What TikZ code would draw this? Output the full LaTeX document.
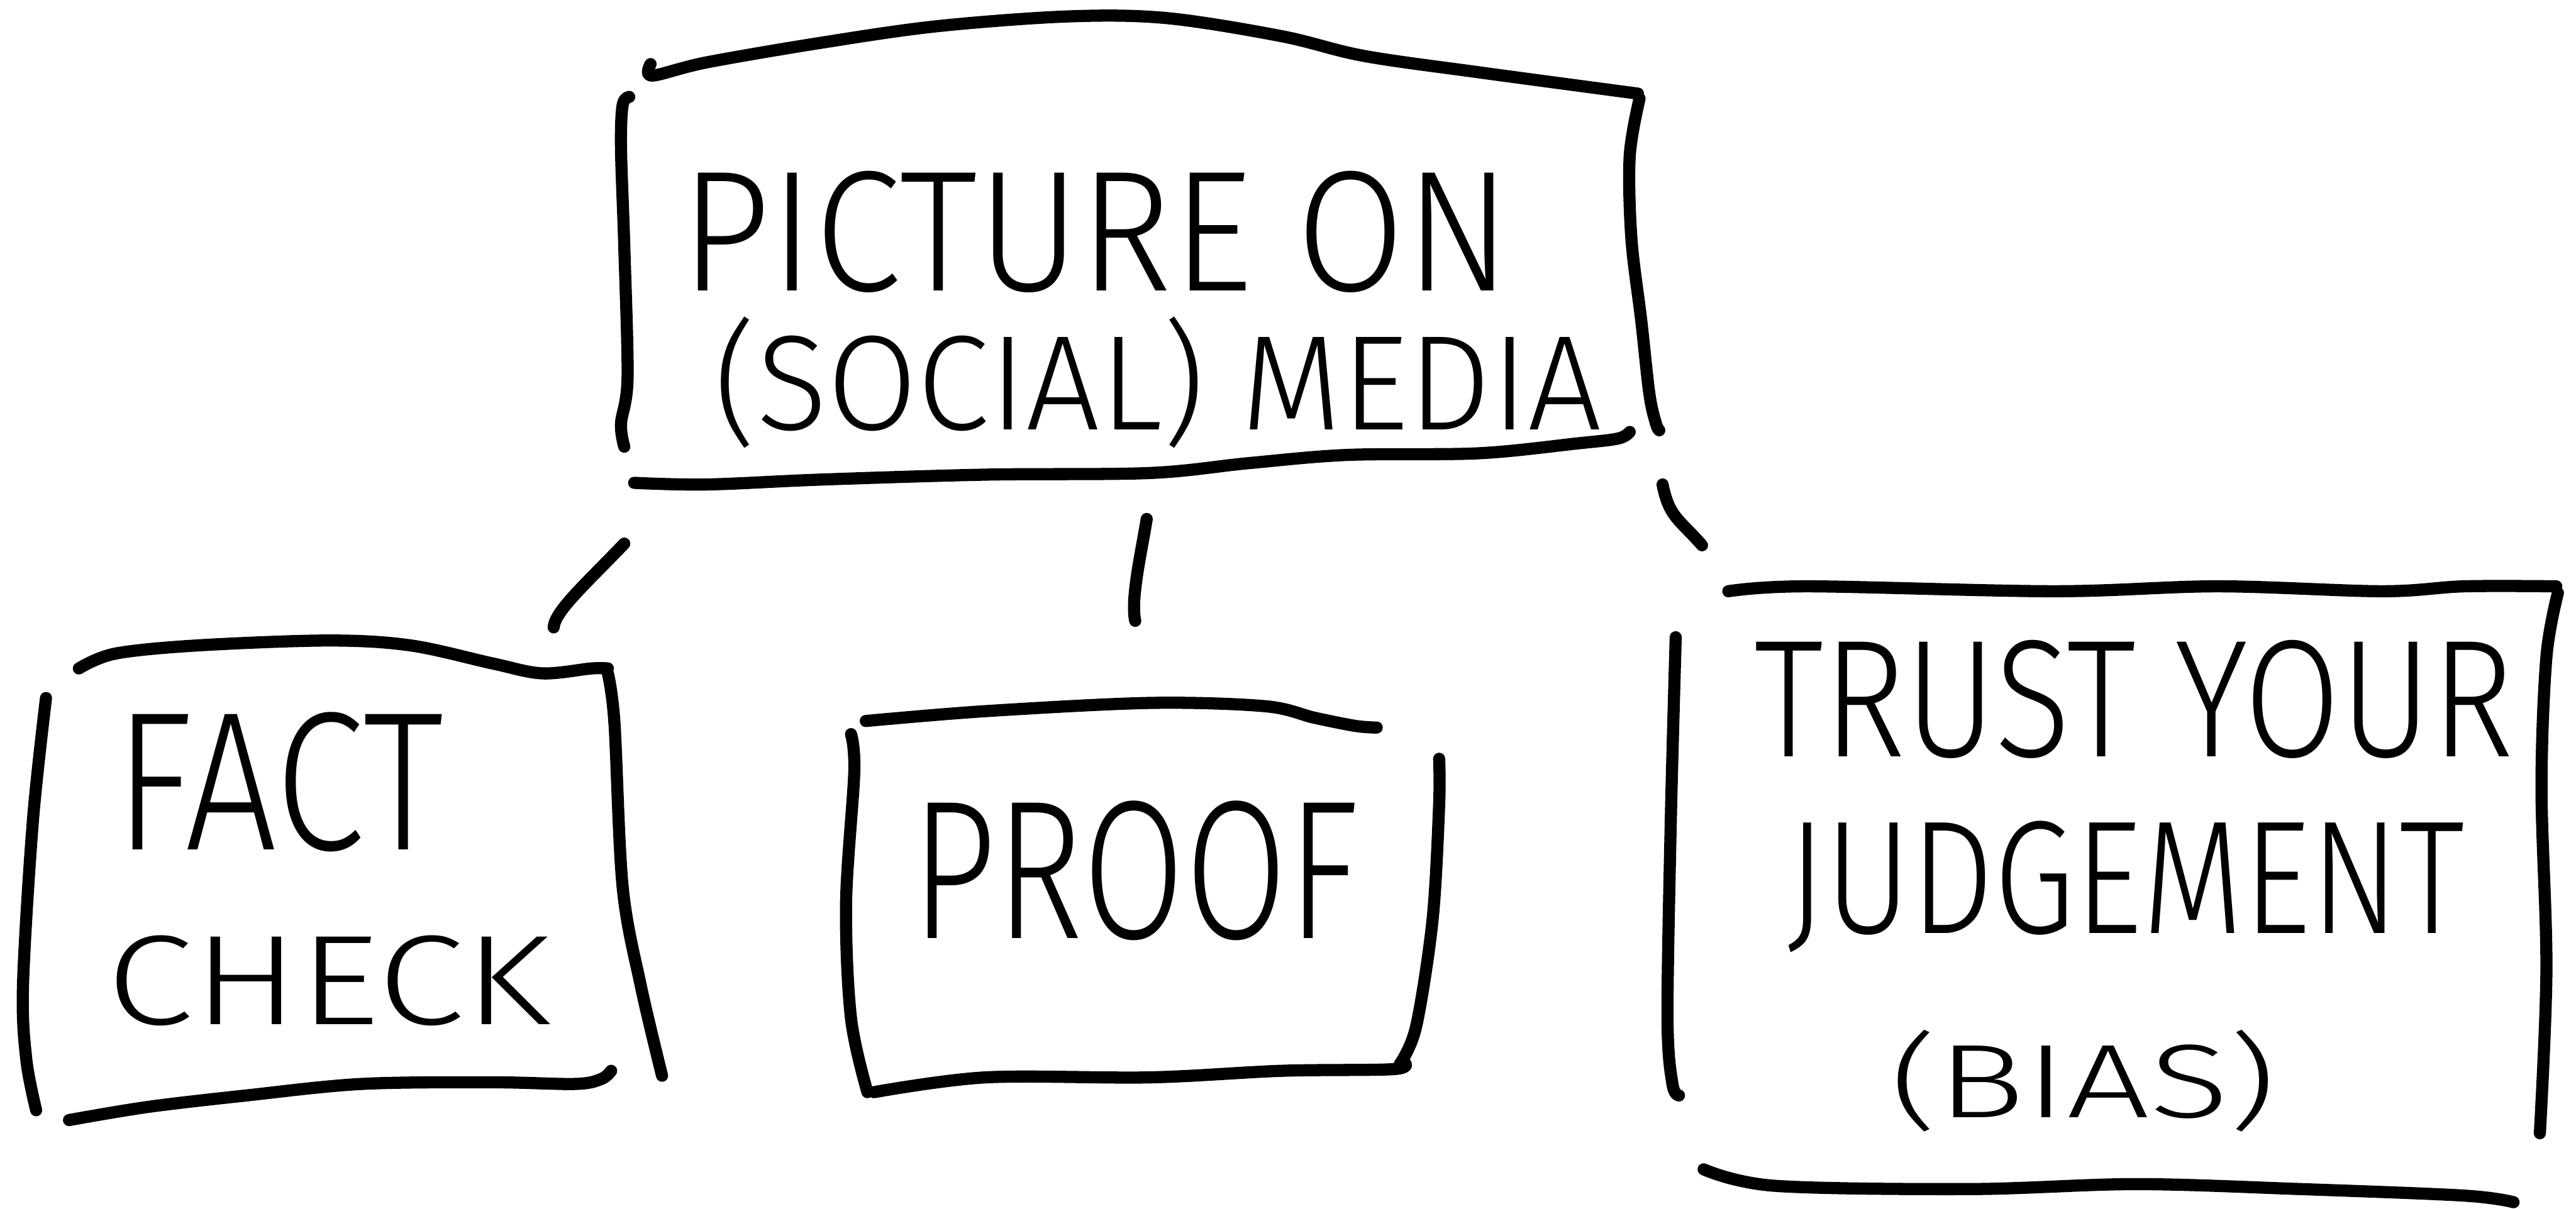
\documentclass[tikz,border=0pt]{standalone}
\usepackage{fontspec}
\IfFontExistsTF{Fira Sans Light}
  {\setmainfont{Fira Sans Light}}
  {\IfFontExistsTF{Lato Light}{\setmainfont{Lato Light}}{\setmainfont{Fira Sans}}}
\tikzset{
  pen/.style={line width=2.1pt, line cap=round, line join=round},
  edge/.style={pen, smooth, tension=0.55},
  label/.style={inner sep=0pt, font=\fontsize{30}{30}\selectfont}
}
\newcommand{\lettering}[3]{\resizebox*{#1}{#2}{#3}}
\begin{document}
\begin{tikzpicture}[x=0.01cm, y=-0.01cm]
\useasboundingbox (0,0) rectangle (1568,736);

% ---- top box: PICTURE ON (SOCIAL) MEDIA
\draw[edge] plot coordinates {(396,39) (397,46) (430,38) (500,26) (570,16) (650,10) (710,11) (780,22) (830,34) (900,44) (997,57)};
\draw[edge] plot coordinates {(383,59) (379,64) (378,90) (380,150) (382,230) (378,258) (380,272)};
\draw[edge] plot coordinates {(998,60) (992,95) (993,145) (999,195) (1004,240) (1008,258) (1010,262)};
\draw[edge] plot coordinates {(386,294) (430,295) (500,292) (600,289) (700,288) (760,282) (820,277) (900,276) (960,270) (985,267) (992,263)};
\node[label] (top1) at (667,141) {\lettering{5.05cm}{0.74cm}{PICTURE ON}};
\node[label] (top2) at (705,233) {\lettering{5.4cm}{0.8cm}{(SOCIAL) MEDIA}};

% ---- connectors below the top box
\coordinate (l1) at (380,331); \coordinate (l2) at (337,382);
\coordinate (m1) at (698,316); \coordinate (m2) at (691,378);
\coordinate (r1) at (1012,295); \coordinate (r2) at (1036,332);
\draw[pen] (l1) .. controls (355,357) and (338,372) .. (l2);
\draw[pen] (m1) .. controls (695,335) and (688,365) .. (m2);
\draw[pen] (r1) .. controls (1016,315) and (1022,316) .. (r2);

% ---- left box: FACT CHECK
\draw[edge] plot coordinates {(48,407) (70,398) (120,393) (200,390) (250,393) (300,404) (330,410) (360,407) (370,407)};
\draw[edge] plot coordinates {(28,425) (20,500) (14,600) (16,645) (22,676)};
\draw[edge] plot coordinates {(370,410) (374,440) (379,540) (390,600) (403,655)};
\draw[edge] plot coordinates {(42,682) (90,674) (150,667) (220,660) (300,659) (350,660) (366,657) (372,652)};
\node[label] (fact) at (170,476) {\lettering{2.0cm}{0.85cm}{FACT}};
\node[label] (check) at (200,597) {\lettering{2.7cm}{0.55cm}{CHECK}};

% ---- middle box: PROOF
\draw[edge] plot coordinates {(527,439) (600,433) (700,428) (770,430) (800,437) (825,442) (838,443)};
\draw[edge] plot coordinates {(518,447) (520,470) (515,550) (518,620) (528,665)};
\draw[edge] plot coordinates {(532,665) (600,656) (700,656) (780,652) (848,651) (855,647)};
\draw[edge] plot coordinates {(876,462) (876,490) (872,560) (862,625) (852,648)};
\node[label] (proof) at (691,530) {\lettering{2.72cm}{0.85cm}{PROOF}};

% ---- right box: TRUST YOUR JUDGEMENT (BIAS)
\draw[edge] plot coordinates {(1052,360) (1100,357) (1250,360) (1350,357) (1450,360) (1500,357) (1556,357)};
\draw[edge] plot coordinates {(1557,361) (1550,400) (1547,480) (1550,590) (1546,690)};
\draw[edge] plot coordinates {(1020,388) (1017,500) (1015,620) (1018,660) (1022,667)};
\draw[edge] plot coordinates {(1037,712) (1080,722) (1200,724) (1300,721) (1400,724) (1500,728) (1530,732)};
\node[label] (trust) at (1299,426) {\lettering{4.62cm}{0.72cm}{TRUST YOUR}};
\node[label] (judge) at (1294,540) {\lettering{4.12cm}{0.8cm}{JUDGEMENT}};
\node[label] (bias) at (1268,658) {\lettering{2.35cm}{0.62cm}{(BIAS)}};
\end{tikzpicture}
\end{document}
